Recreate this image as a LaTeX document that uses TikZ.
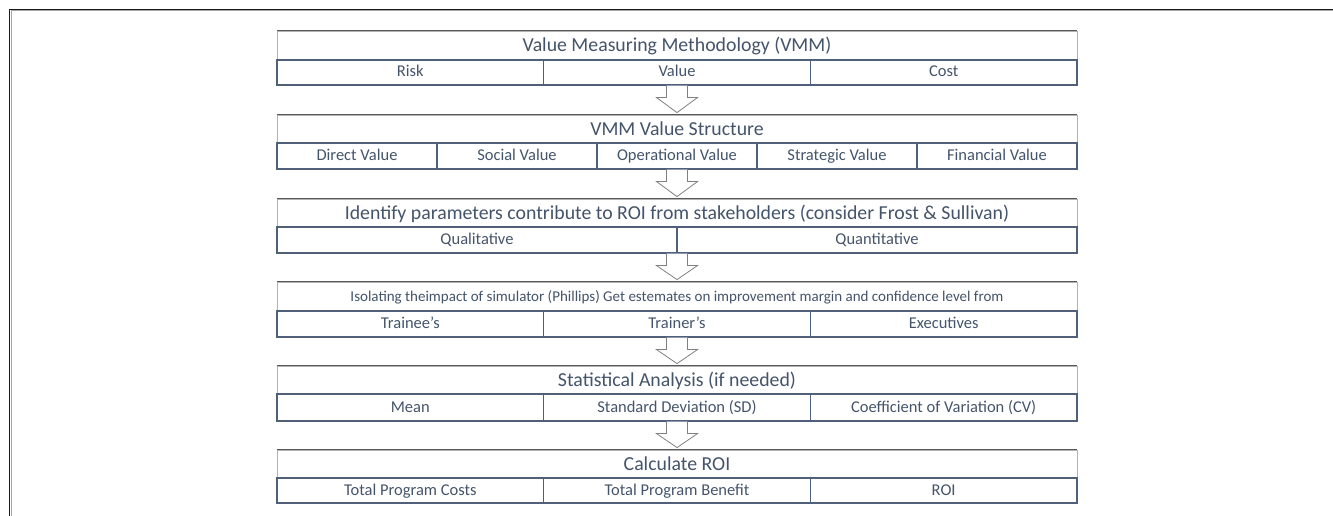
\documentclass[tikz,border=0pt]{standalone}
\usepackage{fontspec}
\setmainfont{Carlito}
\usetikzlibrary{calc}
\definecolor{txt}{HTML}{44546A}
\definecolor{cellline}{HTML}{51607A}
\tikzset{
  titlebox/.style={draw=black!30, line width=0.8pt, fill=white, minimum width=800pt, inner sep=0pt, text=txt, font=\fontsize{19.8}{22}\selectfont, text height=16.5pt, text depth=4pt},
  cellbox/.style={draw=cellline, line width=1.1pt, inner sep=0pt, text=txt, font=\fontsize{16.5}{18}\selectfont, text height=13pt, text depth=4pt},
  topedge/.style={draw=black!65, line width=1.3pt},
  barrow/.style={draw=black!50, line width=0.8pt, fill=white, line join=miter},
  frameline/.style={draw=black!90, line width=1.6pt},
  frameshadow/.style={draw=black!35, line width=1pt}
}
\newcommand\blockarr[2]{%
  \draw[barrow] let \p1=(#1), \p2=(#2) in
    (\x1-10.5pt,\y1) -- (\x1-10.5pt,\y1-12pt) -- (\x1-20.5pt,\y1-12pt) --
    (\x2,\y2+2pt) -- (\x1+20.5pt,\y1-12pt) -- (\x1+10.5pt,\y1-12pt) -- (\x1+10.5pt,\y1);
}
\begin{document}
\begin{tikzpicture}[x=1pt,y=-1pt]
\useasboundingbox (0,0) rectangle (1333,516);
% outer frame (top and left only visible)
\draw[frameshadow] (11,11) -- (1333,11);
\draw[frameshadow] (11,11) -- (11,516);
\draw[frameline] (9,9.5) -- (1333,9.5);
\draw[frameline] (9.5,9) -- (9.5,516);

% ---------- Row 1
\node[titlebox, minimum height=29pt] (t1) at (677,45.5) {Value Measuring Methodology (VMM)};
\draw[topedge] (t1.north west) -- (t1.north east);
\node[cellbox, minimum width=266.67pt, minimum height=25pt] (c1a) at (410.33,72.5) {Risk};
\node[cellbox, minimum width=266.67pt, minimum height=25pt] (c1b) at (677,72.5) {Value};
\node[cellbox, minimum width=266.67pt, minimum height=25pt] (c1c) at (943.67,72.5) {Cost};

% ---------- Row 2
\node[titlebox, minimum height=28pt] (t2) at (677,129) {VMM Value Structure};
\draw[topedge] (t2.north west) -- (t2.north east);
\node[cellbox, minimum width=160pt, minimum height=26pt] (c2a) at (357,156) {Direct Value};
\node[cellbox, minimum width=160pt, minimum height=26pt] (c2b) at (517,156) {Social Value};
\node[cellbox, minimum width=160pt, minimum height=26pt] (c2c) at (677,156) {Operational Value};
\node[cellbox, minimum width=160pt, minimum height=26pt] (c2d) at (837,156) {Strategic Value};
\node[cellbox, minimum width=160pt, minimum height=26pt] (c2e) at (997,156) {Financial Value};

% ---------- Row 3
\node[titlebox, minimum height=28pt] (t3) at (677,213) {Identify parameters contribute to ROI from stakeholders (consider Frost \& Sullivan)};
\draw[topedge] (t3.north west) -- (t3.north east);
\node[cellbox, minimum width=400pt, minimum height=26pt] (c3a) at (477,240) {Qualitative};
\node[cellbox, minimum width=400pt, minimum height=26pt] (c3b) at (877,240) {Quantitative};

% ---------- Row 4
\node[titlebox, minimum height=29pt, font=\fontsize{15}{17}\selectfont, text height=13.5pt, text depth=4pt] (t4) at (677,296.5) {Isolating theimpact of simulator (Phillips) Get estemates on improvement margin and confidence level from};
\draw[topedge] (t4.north west) -- (t4.north east);
\node[cellbox, minimum width=266.67pt, minimum height=26pt] (c4a) at (410.33,324) {Trainee’s};
\node[cellbox, minimum width=266.67pt, minimum height=26pt] (c4b) at (677,324) {Trainer’s};
\node[cellbox, minimum width=266.67pt, minimum height=26pt] (c4c) at (943.67,324) {Executives};

% ---------- Row 5
\node[titlebox, minimum height=28pt] (t5) at (677,380) {Statistical Analysis (if needed)};
\draw[topedge] (t5.north west) -- (t5.north east);
\node[cellbox, minimum width=266.67pt, minimum height=27pt] (c5a) at (410.33,407.5) {Mean};
\node[cellbox, minimum width=266.67pt, minimum height=27pt] (c5b) at (677,407.5) {Standard Deviation (SD)};
\node[cellbox, minimum width=266.67pt, minimum height=27pt] (c5c) at (943.67,407.5) {Coefficient of Variation (CV)};

% ---------- Row 6
\node[titlebox, minimum height=28pt] (t6) at (677,464) {Calculate ROI};
\draw[topedge] (t6.north west) -- (t6.north east);
\node[cellbox, minimum width=266.67pt, minimum height=25pt] (c6a) at (410.33,490.5) {Total Program Costs};
\node[cellbox, minimum width=266.67pt, minimum height=25pt] (c6b) at (677,490.5) {Total Program Benefit};
\node[cellbox, minimum width=266.67pt, minimum height=25pt] (c6c) at (943.67,490.5) {ROI};

% ---------- block arrows
\blockarr{c1b.south}{t2.north}
\blockarr{c2c.south}{t3.north}
\blockarr{t3.center |- c3a.south}{t4.north}
\blockarr{c4b.south}{t5.north}
\blockarr{c5b.south}{t6.north}
\end{tikzpicture}
\end{document}
